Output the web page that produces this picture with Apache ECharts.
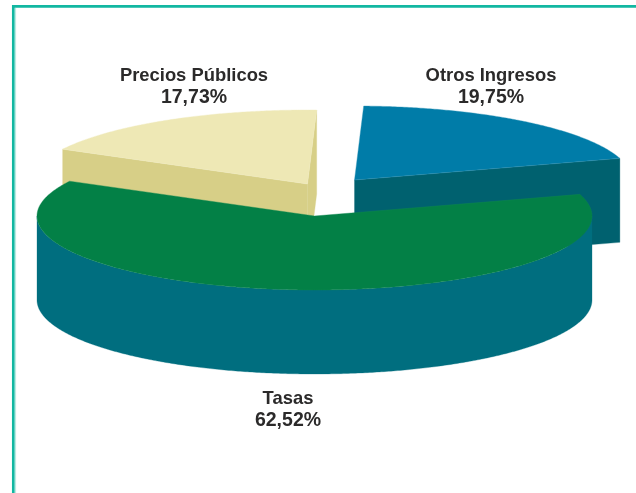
<!DOCTYPE html>
<html><head><meta charset="utf-8">
<style>html,body{margin:0;padding:0;background:#fff}#c{width:636px;height:493px}</style>
<script src="https://cdn.jsdelivr.net/npm/echarts@6/dist/echarts.min.js"></script>
</head><body><div id="c"></div>
<script>
var categories = ['Tasas', 'Precios Públicos', 'Otros Ingresos'];
var shares = [62.52, 17.73, 19.75];

// Layout and style, kept apart from the data
var CENTER = [314.5, 216], RX = 277.5, RY = 74, DEPTH = 84, START_DEG = -17;
var explode = [[0, 0], [-7, -32], [40, -36]];
var labelAt = [[288, 398.5, 421], [194, 75.5, 97.5], [491, 75.5, 97.5]];
var topColors = ['#038046', '#EEE8B5', '#007CA8'];
var sideColors = ['#006E7F', '#D7CF87', '#00616F'];
var topEdges = ['#0F8850', '#F1ECC0', '#2A92B6'];
var stacking = [30, 20, 10];

function ellipsePoint(c, deg, drop) {
  var r = deg * Math.PI / 180;
  return [c[0] + RX * Math.cos(r), c[1] + RY * Math.sin(r) + (drop || 0)];
}
function arc(c, from, to, drop) {
  var pts = [], n = Math.max(2, Math.ceil(Math.abs(to - from) * 2));
  for (var i = 0; i <= n; i++) pts.push(ellipsePoint(c, from + (to - from) * i / n, drop));
  return pts;
}
function poly(points, fill, z2, edge, w) {
  return { type: 'polygon', z2: z2, shape: { points: points }, style: { fill: fill, stroke: edge || fill, lineWidth: w || 0.3 }, silent: true };
}
function wall(a, b, fill, z2) {
  return poly([a, b, [b[0], b[1] + DEPTH], [a[0], a[1] + DEPTH]], fill, z2);
}
function textEl(str, x, y, size) {
  return {
    type: 'text', z2: 100, silent: true, x: x, y: y,
    style: {
      text: str, fill: '#2b2a2a',
      font: 'bold ' + size + 'px "Liberation Sans", Arial, sans-serif',
      align: 'center', verticalAlign: 'middle'
    }
  };
}
function renderSlice(params, api) {
  var i = params.dataIndex, before = 0;
  for (var k = 0; k < i; k++) before += shares[k];
  var from = START_DEG + before * 3.6, to = from + api.value(0) * 3.6;
  var c = [CENTER[0] + explode[i][0], CENTER[1] + explode[i][1]];
  var z = stacking[i], side = sideColors[i], kids = [];

  // outer rim where it faces the viewer (0..180 deg on the ellipse)
  var a = Math.max(from, 0), b = Math.min(to, 180);
  if (a < b) kids.push(poly(arc(c, a, b, 0).concat(arc(c, b, a, DEPTH)), side, z));
  // cut faces
  var pStart = ellipsePoint(c, from), pEnd = ellipsePoint(c, to);
  if (i !== 0) {
    if (pStart[0] < c[0]) kids.push(wall(c, pStart, side, z + 1));
    if (pEnd[0] > c[0]) kids.push(wall(c, pEnd, side, z + 1));
  }
  // top face
  kids.push(poly([c].concat(arc(c, from, to, 0)), topColors[i], z + 3, topEdges[i], 0.4));
  // label
  kids.push(textEl(categories[i], labelAt[i][0], labelAt[i][1], 18.4));
  kids.push(textEl(api.value(0).toFixed(2).replace('.', ',') + '%', labelAt[i][0], labelAt[i][2], 19.5));
  return { type: 'group', children: kids };
}
var chart = echarts.init(document.getElementById('c'), null, { renderer: 'canvas' });
chart.setOption({
  animation: false,
  backgroundColor: '#ffffff',
  graphic: [{
    type: 'polyline', silent: true,
    shape: { points: [[15.6, 493], [15.6, 8]] },
    style: { stroke: '#B4E8DF', lineWidth: 1, fill: null }
  }, {
    type: 'polyline', silent: true,
    shape: { points: [[13.3, 493], [13.3, 6.4], [636, 6.4]] },
    style: { stroke: '#12B7A1', lineWidth: 2.7, fill: null }
  }],
  series: [{
    type: 'custom', coordinateSystem: 'none', renderItem: renderSlice,
    data: shares.map(function (v, i) { return { name: categories[i], value: [v] }; })
  }]
});
</script></body></html>
